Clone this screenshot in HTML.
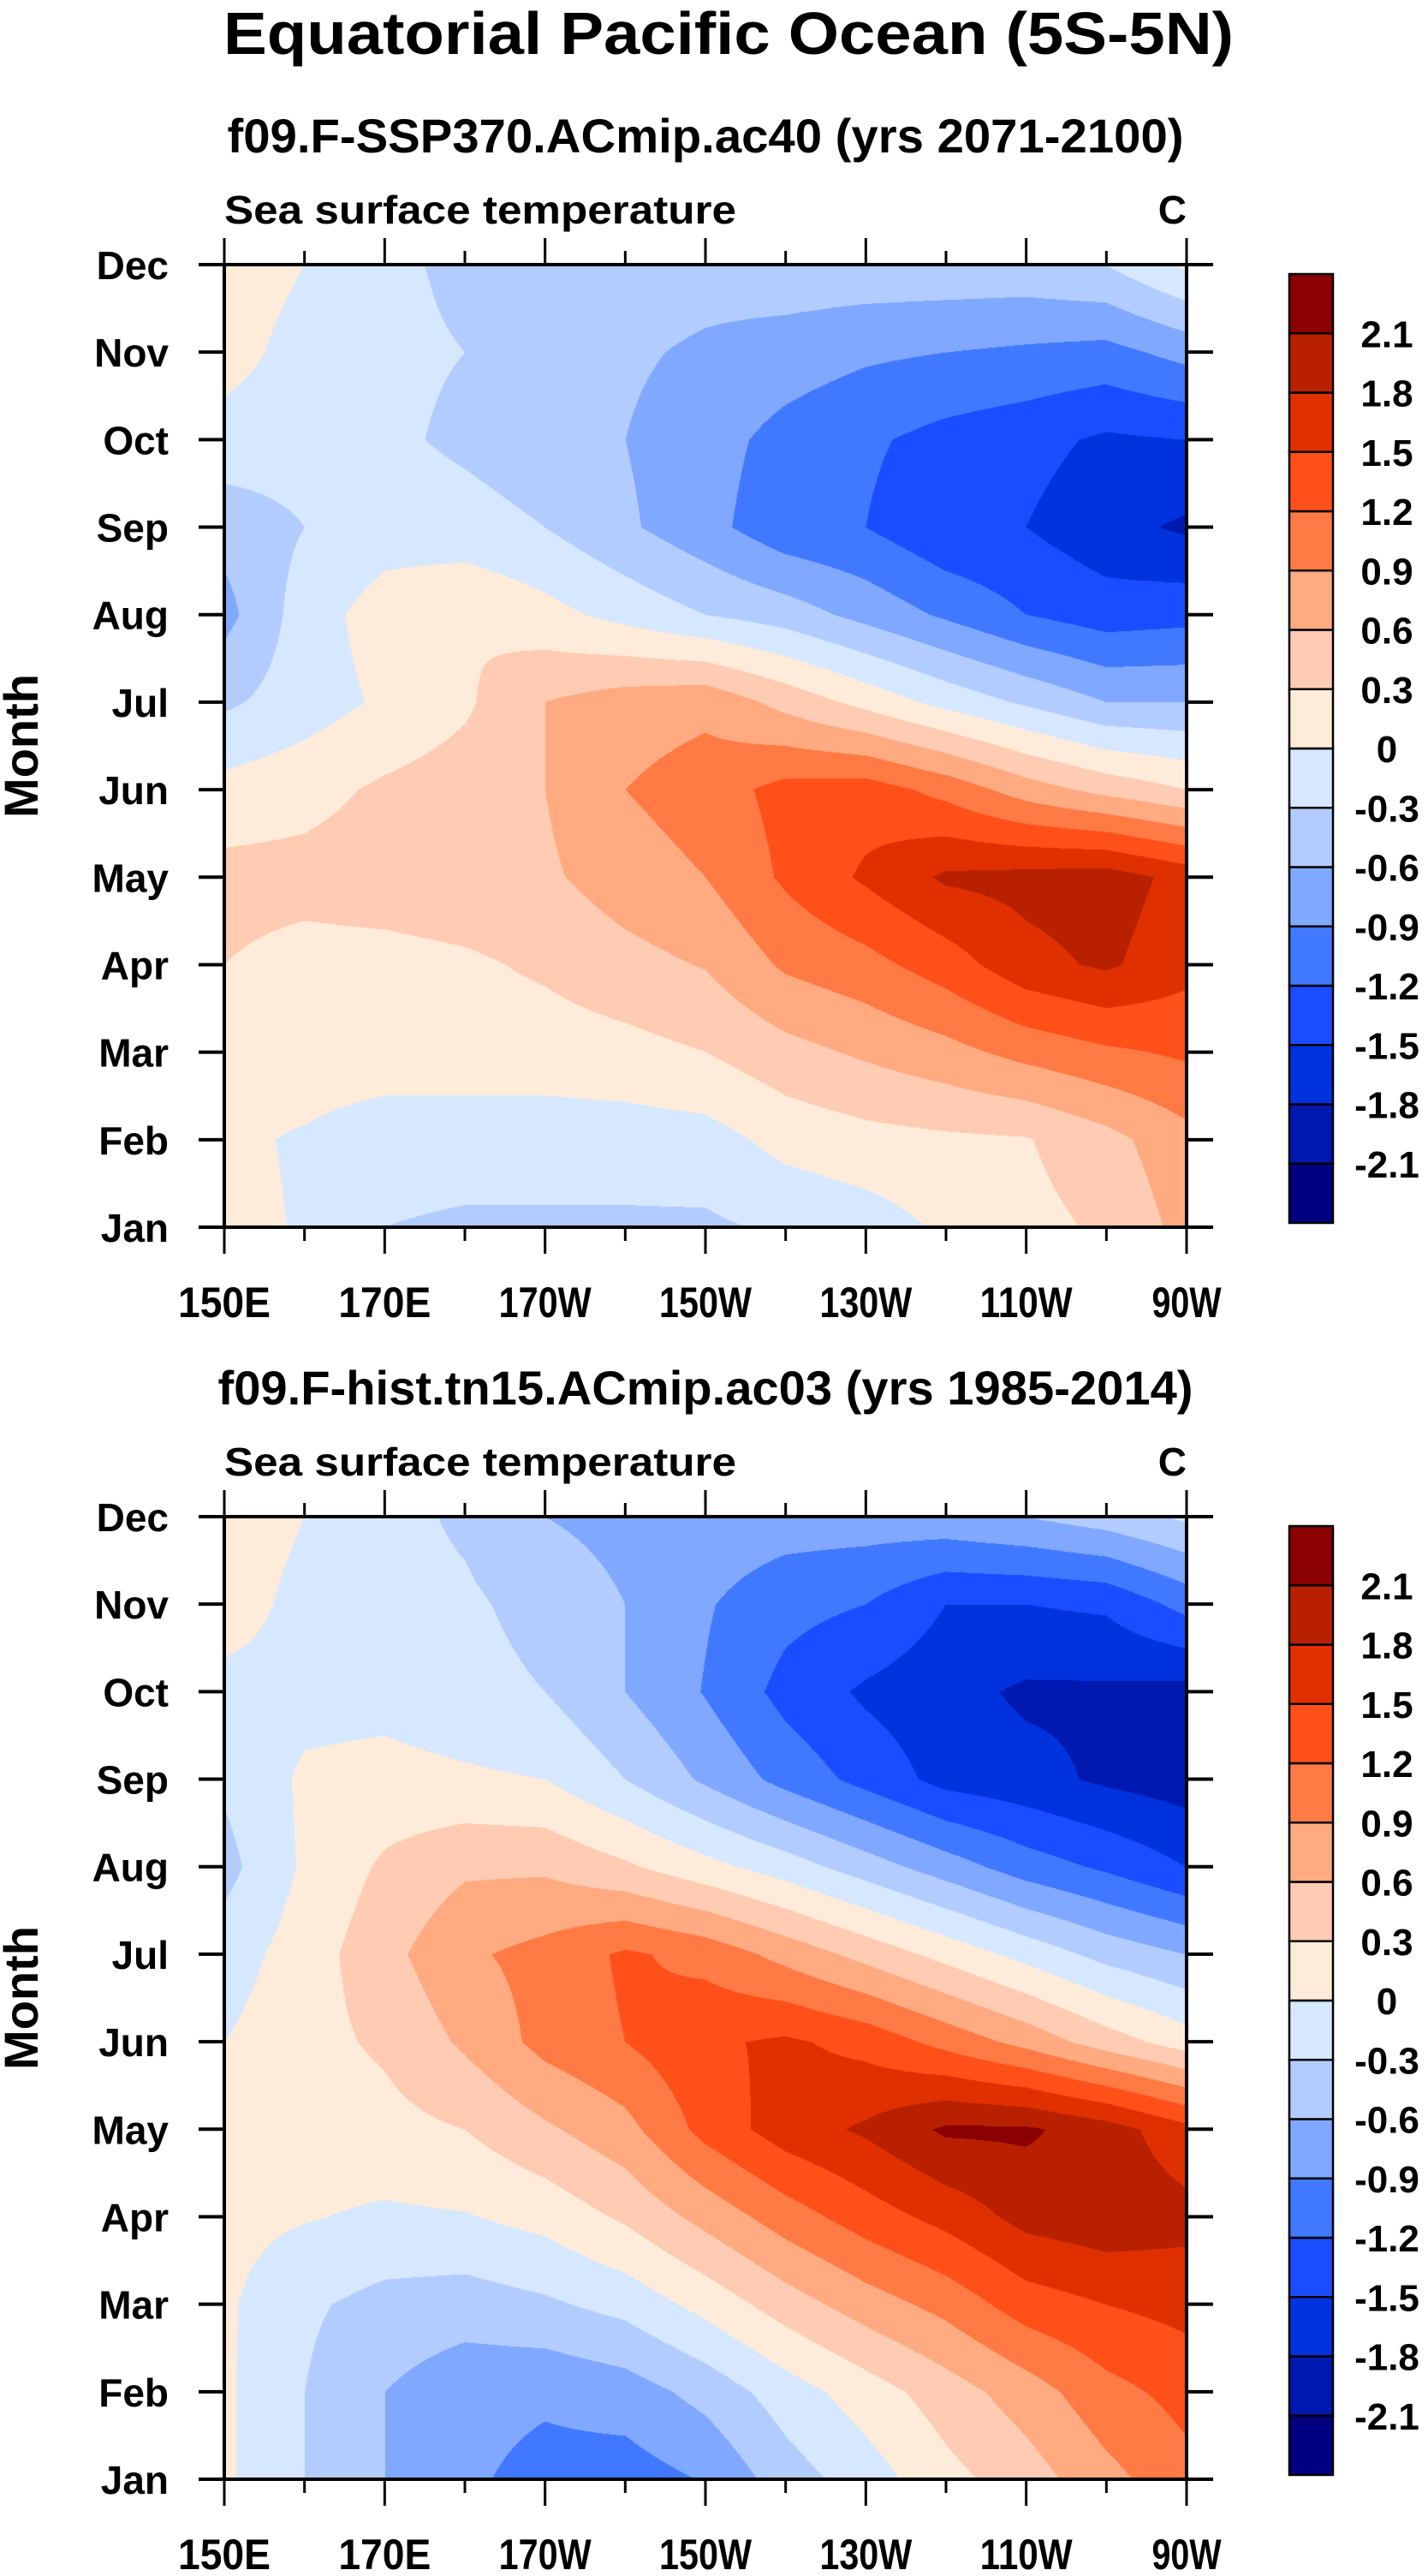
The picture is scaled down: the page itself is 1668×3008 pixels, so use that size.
<!DOCTYPE html>
<html><head><meta charset="utf-8"><style>
html,body{margin:0;padding:0;background:#fff;}
#wrap{position:relative;width:1668px;height:3008px;overflow:hidden;}
canvas{position:absolute;}
svg{position:absolute;left:0;top:0;}
text{font-family:"Liberation Sans",Arial,sans-serif;font-weight:bold;fill:#000;}
</style></head><body>
<div id="wrap">
<canvas id="c1" width="1124" height="1124" style="left:262px;top:309px"></canvas>
<canvas id="c2" width="1124" height="1125" style="left:262px;top:1771px"></canvas>
<svg id="s" width="1668" height="3008" xmlns="http://www.w3.org/2000/svg">
<text x="851" y="63" text-anchor="middle" font-size="70" textLength="1180" lengthAdjust="spacingAndGlyphs">Equatorial Pacific Ocean (5S-5N)</text>
</svg>
</div>
<script>
// ---- data ----
const lonTicks = [150,170,190,210,230,250,270];
const lonTickLabels = ["150E","170E","170W","150W","130W","110W","90W"];
const lons = [150,160,170,180,190,200,210,220,230,240,250,260,270];
const months = ["Jan","Feb","Mar","Apr","May","Jun","Jul","Aug","Sep","Oct","Nov","Dec"];
const levels = [-2.1,-1.8,-1.5,-1.2,-0.9,-0.6,-0.3,0,0.3,0.6,0.9,1.2,1.5,1.8,2.1];
const levelLabels = ["-2.1","-1.8","-1.5","-1.2","-0.9","-0.6","-0.3","0","0.3","0.6","0.9","1.2","1.5","1.8","2.1"];
const colors = ["#000080","#0019b0","#0032dd","#1a4dff","#4079ff","#80a8ff","#b3ccff","#d6e8ff","#ffebd9","#ffcbb3","#ffaa80","#ff7a45","#ff5019","#e03000","#b82000","#8b0000"];
const sst1 = [
 [0.1,-0.03,-0.3,-0.35,-0.35,-0.35,-0.35,-0.25,-0.15,0.05,0.2,0.35,0.7],
 [0.05,-0.03,-0.15,-0.15,-0.15,-0.15,-0.12,0.1,0.2,0.25,0.28,0.5,0.8],
 [0.15,0.15,0.15,0.15,0.15,0.2,0.3,0.5,0.65,0.8,1.0,1.15,1.25],
 [0.3,0.2,0.2,0.25,0.35,0.5,0.62,0.95,1.1,1.35,1.7,1.85,1.6],
 [0.4,0.4,0.45,0.5,0.55,0.75,0.9,1.25,1.55,1.85,1.9,1.95,1.7],
 [0.1,0.2,0.35,0.45,0.6,0.9,1.05,1.3,1.35,1.1,0.75,0.5,0.3],
 [-0.35,-0.15,0.05,0.25,0.6,0.75,0.82,0.5,0.2,-0.1,-0.35,-0.6,-0.6],
 [-0.7,-0.15,0.15,0.3,0.1,-0.1,-0.3,-0.45,-0.7,-0.95,-1.2,-1.35,-1.3],
 [-0.5,-0.3,-0.15,-0.2,-0.3,-0.55,-0.8,-1.1,-1.2,-1.45,-1.5,-1.7,-1.85],
 [-0.1,-0.15,-0.25,-0.35,-0.45,-0.6,-0.78,-1.0,-1.15,-1.3,-1.4,-1.55,-1.5],
 [0.1,-0.1,-0.25,-0.3,-0.4,-0.55,-0.65,-0.75,-0.85,-0.9,-0.95,-1.0,-0.8],
 [0.15,0.0,-0.25,-0.35,-0.4,-0.45,-0.47,-0.4,-0.4,-0.4,-0.4,-0.3,0.05]
];
const sst2 = [
 [0.05,-0.3,-0.6,-0.85,-1.0,-1.05,-0.88,-0.45,-0.15,0.2,0.45,0.8,1.1],
 [0.05,-0.3,-0.6,-0.8,-0.85,-0.75,-0.5,-0.15,0.15,0.45,0.75,1.1,1.3],
 [0.05,-0.25,-0.4,-0.45,-0.35,-0.2,0.1,0.45,0.75,1.0,1.35,1.5,1.6],
 [0.1,0.02,-0.05,-0.02,0.1,0.35,0.7,1.05,1.35,1.6,1.9,2.0,1.9],
 [0.1,0.15,0.2,0.3,0.55,0.8,1.3,1.65,1.85,2.15,2.15,1.95,1.6],
 [0.0,0.2,0.35,0.65,1.0,1.2,1.45,1.55,1.4,1.1,0.8,0.45,0.15],
 [-0.15,0.15,0.5,0.85,1.0,1.25,1.1,0.8,0.5,0.2,-0.1,-0.4,-0.6],
 [-0.4,0.05,0.35,0.55,0.55,0.35,0.1,-0.15,-0.45,-0.75,-1.05,-1.25,-1.5],
 [-0.25,0.05,0.1,0.05,0.0,-0.3,-0.65,-1.0,-1.3,-1.6,-1.7,-1.85,-1.95],
 [-0.1,-0.1,-0.1,-0.2,-0.3,-0.6,-0.92,-1.3,-1.55,-1.7,-1.85,-1.85,-1.9],
 [0.15,-0.1,-0.2,-0.25,-0.4,-0.6,-0.87,-1.1,-1.2,-1.5,-1.5,-1.45,-1.1],
 [0.2,0.0,-0.2,-0.35,-0.6,-0.7,-0.7,-0.75,-0.75,-0.7,-0.6,-0.45,-0.25]
];
const subtitles = ["f09.F-SSP370.ACmip.ac40 (yrs 2071-2100)","f09.F-hist.tn15.ACmip.ac03 (yrs 1985-2014)"];
</script>
<script>
const NS="http://www.w3.org/2000/svg";
const svg=document.getElementById('s');
const PX0=262,PX1=1386,PH=1124;
function xScale(lon){return PX0+(lon-150)/120*(PX1-PX0);}
function yScale(mi,top){return top+PH-mi/11*PH;}
function mk(tag,attrs,parent){const e=document.createElementNS(NS,tag);for(const k in attrs)e.setAttribute(k,attrs[k]);(parent||svg).appendChild(e);return e;}
function hex(c){return [parseInt(c.substr(1,2),16),parseInt(c.substr(3,2),16),parseInt(c.substr(5,2),16)];}
const rgb=colors.map(hex);
function colorIdx(v){let i=0;while(i<levels.length&&v>=levels[i])i++;return i;}

function drawField(canvasId,data){
  const cv=document.getElementById(canvasId),ctx=cv.getContext('2d');
  const W=cv.width,H=cv.height,img=ctx.createImageData(W,H),d=img.data;
  const nx=lons.length-1,ny=months.length-1;
  for(let py=0;py<H;py++){
    const fy=(H-1-py)/(H-1)*ny;let j=Math.min(Math.floor(fy),ny-1);const ty=fy-j;
    for(let px=0;px<W;px++){
      const fx=px/(W-1)*nx;let i=Math.min(Math.floor(fx),nx-1);const tx=fx-i;
      const v=(data[j][i]*(1-tx)+data[j][i+1]*tx)*(1-ty)+(data[j+1][i]*(1-tx)+data[j+1][i+1]*tx)*ty;
      const c=rgb[colorIdx(v)];const o=(py*W+px)*4;
      d[o]=c[0];d[o+1]=c[1];d[o+2]=c[2];d[o+3]=255;
    }
  }
  ctx.putImageData(img,0,0);
}
drawField('c1',sst1);
drawField('c2',sst2);

function panel(top,k){
  const off=top-309;
  const g=mk('g',{});
  
  
  const st=mk('text',{x:824,y:178+off,'text-anchor':'middle','font-size':56,textLength:(k?1139:1117),lengthAdjust:'spacingAndGlyphs'},g);
  st.textContent=subtitles[k];
  
  
  const vl=mk('text',{x:262,y:261+off,'font-size':46,textLength:598,lengthAdjust:'spacingAndGlyphs'},g);
  vl.textContent='Sea surface temperature';
  
  
  const ul=mk('text',{x:1386,y:261+off,'text-anchor':'end','font-size':46},g);
  ul.textContent='C';
  
  
  const fr=mk('rect',{x:PX0,y:top,width:PX1-PX0,height:PH,fill:'none',stroke:'#000','stroke-width':4},g);
  
  
  for(let lon=150;lon<=270;lon+=10){
    const x=xScale(lon),major=(lon-150)%20===0,len=major?31:16;
    const t1=mk('line',{x1:x,x2:x,y1:top,y2:top-len,stroke:'#000','stroke-width':3},g);
    
    
    const t2=mk('line',{x1:x,x2:x,y1:top+PH,y2:top+PH+len,stroke:'#000','stroke-width':3},g);
    
    
  }
  lonTicks.forEach((lon,i)=>{
    const t=mk('text',{x:xScale(lon),y:1538+off,'text-anchor':'middle','font-size':50,textLength:lonTickLabels[i].length*27,lengthAdjust:'spacingAndGlyphs'},g);
    t.textContent=lonTickLabels[i];
    
    
  });
  months.forEach((m,i)=>{
    const y=yScale(i,top);
    const a=mk('line',{x1:PX0,x2:PX0-30,y1:y,y2:y,stroke:'#000','stroke-width':4},g);
    
    
    const b=mk('line',{x1:PX1,x2:PX1+31,y1:y,y2:y,stroke:'#000','stroke-width':4},g);
    
    
    const t=mk('text',{x:197,y:y+17,'text-anchor':'end','font-size':46},g);
    t.textContent=m;
    
    
  });
  const yl=mk('text',{x:0,y:0,'text-anchor':'middle','font-size':56,transform:'translate(44,'+(top+PH/2)+') rotate(-90)'},g);
  yl.textContent='Month';
  
  
  const cbTop=top+11,cbH=1108,n=colors.length,bh=cbH/n;
  colors.forEach((c,i)=>{
    const r=mk('rect',{x:1506,y:cbTop+cbH-(i+1)*bh,width:51,height:bh,fill:c,stroke:'#000','stroke-width':2.5},g);
    
    
  });
  levels.forEach((lv,i)=>{
    const t=mk('text',{x:1620,y:cbTop+cbH-(i+1)*bh+16,'text-anchor':'middle','font-size':44},g);
    t.textContent=levelLabels[i];
    
    
  });
}
panel(309,0);
panel(1771,1);
</script>
</body></html>
